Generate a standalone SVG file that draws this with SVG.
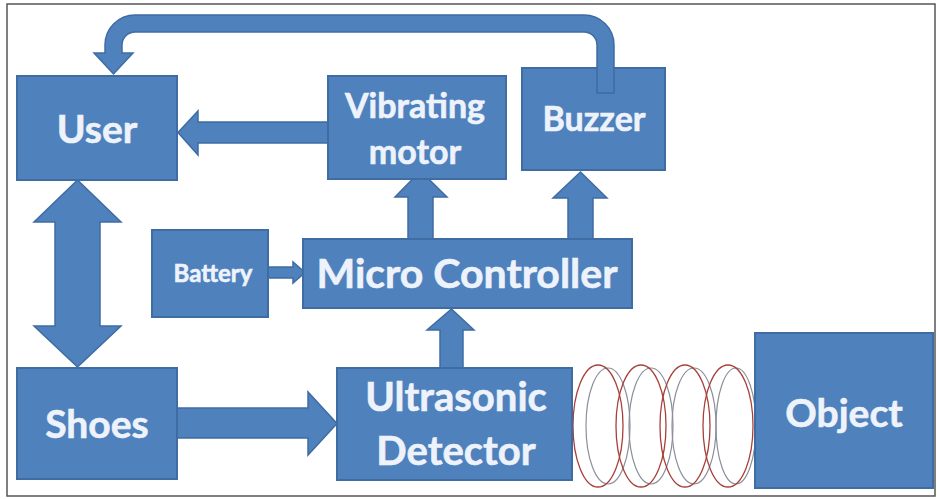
<svg xmlns="http://www.w3.org/2000/svg" width="937" height="499" viewBox="0 0 937 499">
<style>
.box{fill:#4f81bd;stroke:#3f6ca3;stroke-width:2}
.arr{fill:#4f81bd;stroke:#3f6ca3;stroke-width:1.5;stroke-linejoin:miter}
.t{font-family:Lato,"Open Sans","Liberation Sans",sans-serif;font-weight:bold;fill:#eef3fb;text-anchor:middle;stroke:#eef3fb;stroke-width:0.6}
.coil{fill:none;stroke:#a8403a;stroke-width:1.3}
.coilb{fill:none;stroke:#8a8f9a;stroke-width:1.2}
</style>
<rect x="0" y="0" width="937" height="499" fill="#ffffff"/>
<rect x="7" y="4" width="928" height="492" fill="none" stroke="#555" stroke-width="1.5"/>
<g id="connectors">
<path class="arr" d="M614 93 L614 45 A30 30 0 0 0 584 15 L135 15 A30 30 0 0 0 105 45 L105 53 L94 53 L113.5 74 L133 53 L122 53 L122 45 A13 13 0 0 1 135 32 L584 32 A13 13 0 0 1 597 45 L597 93 Z"/>
<path class="arr" d="M328 122 L198 122 L198 111 L178 132.5 L198 155 L198 143 L328 143 Z"/>
<path class="arr" d="M408 239 L408 197 L395 197 L420.5 171 L447 197 L433 197 L433 239 Z"/>
<path class="arr" d="M568 239 L568 198 L553 198 L580.5 172 L607 198 L593 198 L593 239 Z"/>
<path class="arr" d="M440 368 L440 330 L427 330 L451.5 309 L474 330 L463 330 L463 368 Z"/>
<path class="arr" d="M55 222 L34 222 L77.5 180 L121 222 L100 222 L100 326 L121 326 L77.5 367 L34 326 L55 326 Z"/>
<path class="arr" d="M177 408 L308 408 L308 392 L337 423.5 L308 455 L308 438 L177 438 Z"/>
<path class="arr" d="M268 267 L293 267 L293 262 L305 272.5 L293 283 L293 278 L268 278 Z"/>
<g id="waves">
<ellipse class="coilb" cx="608" cy="426" rx="22" ry="58"/>
<ellipse class="coilb" cx="651" cy="426" rx="22" ry="58"/>
<ellipse class="coilb" cx="694" cy="426" rx="22" ry="58"/>
<ellipse class="coilb" cx="736" cy="426" rx="20" ry="58"/>
<ellipse class="coil" cx="598" cy="426" rx="25" ry="61"/>
<ellipse class="coil" cx="641" cy="426" rx="25" ry="61"/>
<ellipse class="coil" cx="685" cy="426" rx="25" ry="61"/>
<ellipse class="coil" cx="728" cy="426" rx="25" ry="61"/>
</g>
</g>
<g id="user"><rect class="box" x="17" y="76" width="160" height="104"/><text class="t" x="97" y="143" font-size="39">User</text></g>
<g id="vibrating-motor"><rect class="box" x="328" y="76" width="178" height="103"/><text class="t" x="415" y="118" font-size="34">Vibrating</text><text class="t" x="415" y="164" font-size="34">motor</text></g>
<g id="buzzer"><rect class="box" x="522" y="68" width="143" height="102"/><text class="t" x="594" y="131" font-size="34">Buzzer</text>
<rect x="597.8" y="67" width="15.4" height="25.2" fill="#4f81bd"/><path d="M597 68 L597 93 L614 93 L614 68" fill="none" stroke="#3f6ca3" stroke-width="1.5"/></g>
<g id="battery"><rect class="box" x="152" y="230" width="116" height="87"/><text class="t" x="213" y="282" font-size="24">Battery</text></g>
<g id="micro-controller"><rect class="box" x="303" y="239" width="329" height="69"/><text class="t" x="467" y="288" font-size="41">Micro Controller</text></g>
<g id="shoes"><rect class="box" x="17" y="368" width="160" height="111"/><text class="t" x="97" y="438" font-size="39">Shoes</text></g>
<g id="ultrasonic-detector"><rect class="box" x="337" y="368" width="235" height="112"/><text class="t" x="456" y="411" font-size="40">Ultrasonic</text><text class="t" x="456" y="465" font-size="40">Detector</text></g>
<g id="object"><rect class="box" x="755" y="333" width="178" height="155"/><text class="t" x="844" y="427" font-size="39">Object</text></g>
</svg>
